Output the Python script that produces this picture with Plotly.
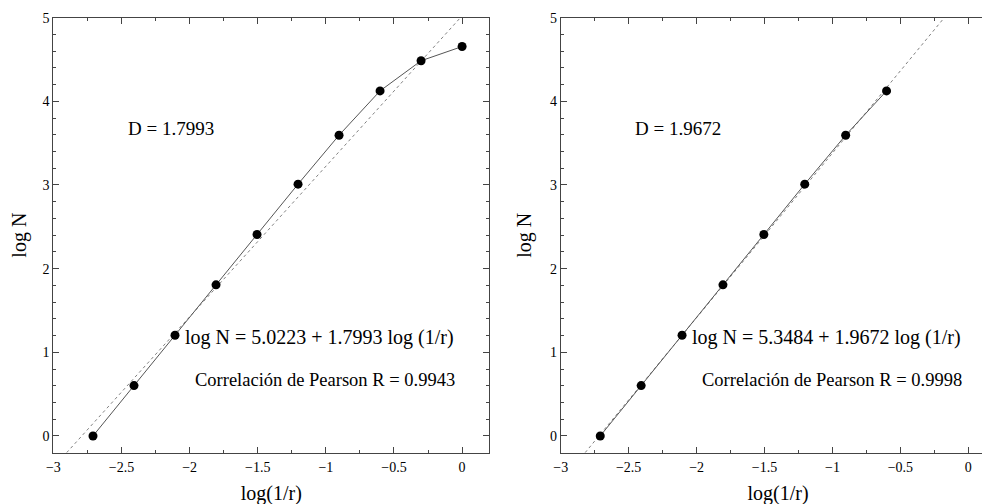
import plotly.graph_objects as go

# data
x_left = [-2.709, -2.408, -2.107, -1.806, -1.505, -1.204, -0.903, -0.602, -0.301, 0.0]
y_left = [0.0, 0.602, 1.204, 1.806, 2.408, 3.01, 3.595, 4.125, 4.485, 4.655]
x_right = x_left[:8]
y_right = y_left[:8]

fit_left = (5.0223, 1.7993)   # intercept, slope
fit_right = (5.3484, 1.9672)
pearson_left = "0.9943"
pearson_right = "0.9998"

x_ticks = [-3, -2.5, -2, -1.5, -1, -0.5, 0]
y_ticks = [0, 1, 2, 3, 4, 5]

YMIN, YMAX = -0.2, 5.0

def fit_line(a, b):
    xs = [(YMIN - a) / b, (YMAX - a) / b]
    ys = [a + b * xv for xv in xs]
    return xs, ys

FONT = "Liberation Serif"

fig = go.Figure()

for i, (xd, yd, fit) in enumerate([(x_left, y_left, fit_left), (x_right, y_right, fit_right)]):
    xa = "x" if i == 0 else "x2"
    ya = "y" if i == 0 else "y2"
    fx, fy = fit_line(*fit)
    fig.add_trace(go.Scatter(x=fx, y=fy, mode="lines", xaxis=xa, yaxis=ya,
                             line=dict(color="#808080", width=1, dash="3px,3px"),
                             showlegend=False, hoverinfo="skip"))
    fig.add_trace(go.Scatter(x=xd, y=yd, mode="lines+markers", xaxis=xa, yaxis=ya,
                             line=dict(color="#555555", width=1),
                             marker=dict(color="black", size=9),
                             showlegend=False))

axis_common = dict(
    showline=True, linecolor="#444444", linewidth=1, mirror="ticks",
    ticks="inside", ticklen=6, tickcolor="#444444", tickwidth=1,
    showgrid=False, zeroline=False, automargin=False,
    tickfont=dict(family=FONT, size=14, color="black"),
)
minor_x = dict(ticks="inside", dtick=0.25, ticklen=3, tickcolor="#444444")
minor_y = dict(ticks="inside", dtick=0.2, ticklen=3, tickcolor="#444444")

YDOM = [0.1177, 0.9808]

fig.update_layout(
    width=990, height=504,
    margin=dict(l=0, r=0, t=0, b=0),
    paper_bgcolor="white", plot_bgcolor="white",
    font=dict(family=FONT, color="black"),
    xaxis=dict(domain=[0.0458, 0.4862], range=[-3, 0.2], tickvals=x_ticks, anchor="y",
               minor=minor_x, ticklabelstandoff=2,
               title=dict(text="log(1/r)", font=dict(family=FONT, size=20), standoff=11),
               **axis_common),
    yaxis=dict(domain=YDOM, range=[YMIN, YMAX], tickvals=y_ticks, anchor="x",
               minor=minor_y,
               title=dict(text="log N", font=dict(family=FONT, size=20), standoff=12),
               **axis_common),
    xaxis2=dict(domain=[0.5583, 0.9975], range=[-3, 0.2], tickvals=x_ticks, anchor="y2",
                minor=minor_x, ticklabelstandoff=2,
                title=dict(text="log(1/r)", font=dict(family=FONT, size=20), standoff=11),
                **axis_common),
    yaxis2=dict(domain=YDOM, range=[YMIN, YMAX], tickvals=y_ticks, anchor="x2",
                minor=minor_y,
                title=dict(text="log N", font=dict(family=FONT, size=20), standoff=12),
                **axis_common),
)

for i, (fit, r) in enumerate([(fit_left, pearson_left), (fit_right, pearson_right)]):
    xr = "x" if i == 0 else "x2"
    yr = "y" if i == 0 else "y2"
    a, b = fit
    fig.add_annotation(x=-2.47, y=3.68, xref=xr, yref=yr, xanchor="left", yanchor="middle",
                       text=f"D = {b:.4f}", showarrow=False,
                       font=dict(family=FONT, size=19, color="black"))
    fig.add_annotation(x=-2.05, y=1.18, xref=xr, yref=yr, xanchor="left", yanchor="middle",
                       text=f"log N = {a:.4f} + {b:.4f} log (1/r)", showarrow=False,
                       font=dict(family=FONT, size=20, color="black"))
    fig.add_annotation(x=-1.976, y=0.673, xref=xr, yref=yr, xanchor="left", yanchor="middle",
                       text=f"Correlación de Pearson R = {r}", showarrow=False,
                       font=dict(family=FONT, size=18.5, color="black"))

fig.write_html("out.html")
